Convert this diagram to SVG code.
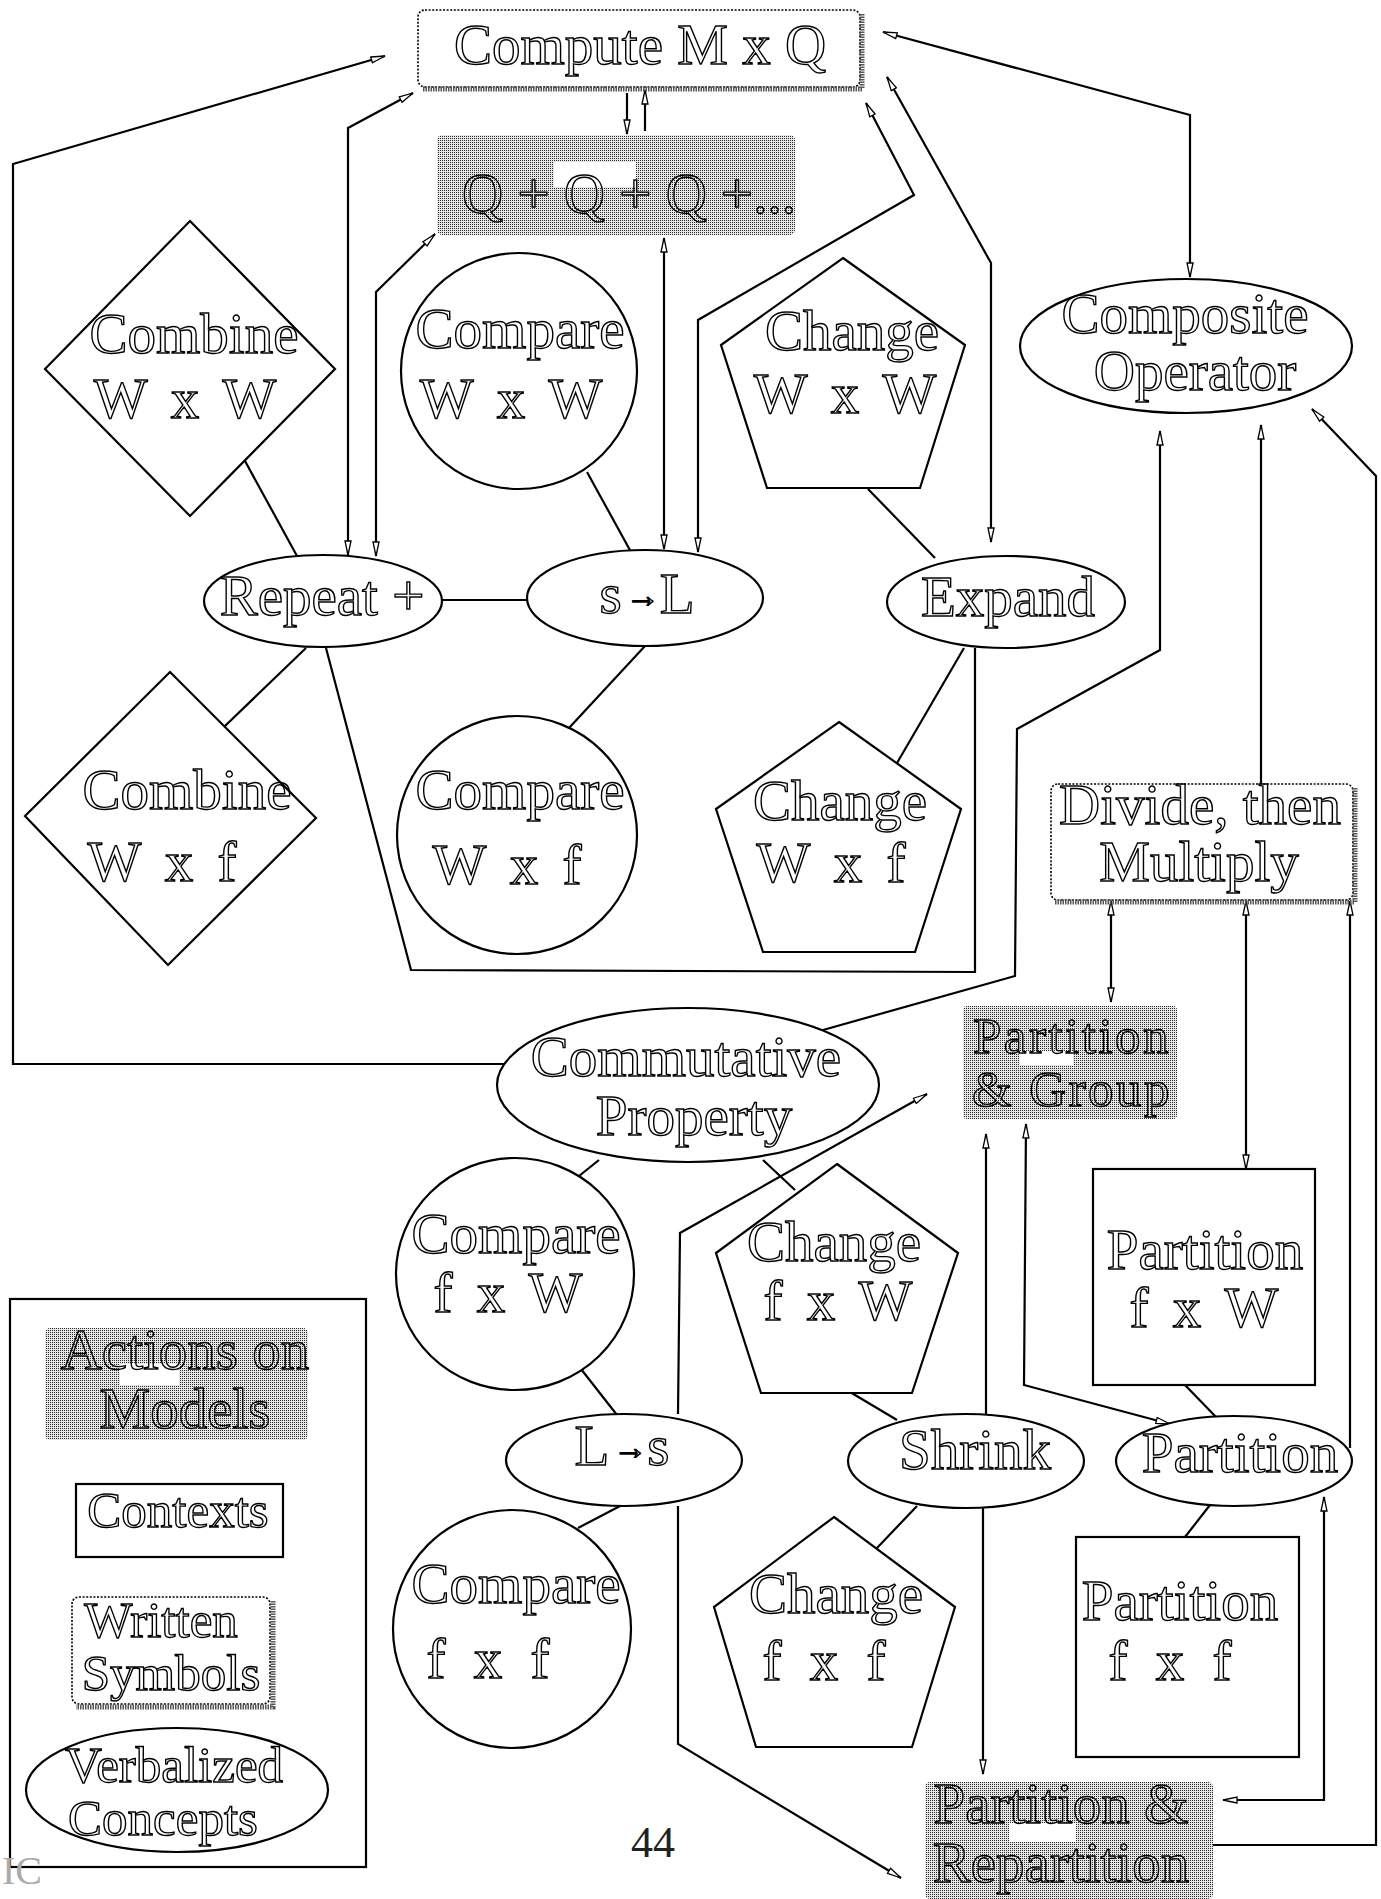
<svg xmlns="http://www.w3.org/2000/svg" width="1381" height="1899" viewBox="0 0 1381 1899">
<style>
.n{fill:#fff;stroke:#000;stroke-width:2.2}
.g{fill:url(#ht);stroke:none}
.t{font-family:"Liberation Serif",serif;font-size:57px;text-anchor:middle;fill:none;stroke:#000;stroke-width:1.4}
.l{font-size:51px}
.v{word-spacing:10px}
.w{fill:#fff;stroke:none}
#conn path{fill:none;stroke:#000;stroke-width:2.2}
.d{fill:#fff;stroke:#000;stroke-width:1.6;stroke-dasharray:2 1.6}
.sh{fill:none;stroke:#555;stroke-width:5;stroke-dasharray:1.5 1}
</style>
<defs>
<pattern id="ht" width="2" height="2" patternUnits="userSpaceOnUse"><rect width="2" height="2" fill="#e6e6e6"/><rect width="1" height="1" fill="#2a2a2a"/></pattern>
<marker id="a" viewBox="0 0 16 8" refX="15" refY="4" markerWidth="16" markerHeight="8" markerUnits="userSpaceOnUse" orient="auto-start-reverse"><path d="M1,1 L15,4 L1,7 z" fill="#fff" stroke="#000" stroke-width="1.3"/></marker>
</defs>
<rect width="1381" height="1899" fill="#fff"/>

<g id="conn">
<path d="M504,1064 L13,1064 L13,164 L385,56" marker-end="url(#a)"/>
<path d="M348,555 L348,128 L413,93" marker-start="url(#a)" marker-end="url(#a)"/>
<path d="M376,556 L376,292 L435,234" marker-start="url(#a)" marker-end="url(#a)"/>
<path d="M664,549 L664,238" marker-start="url(#a)" marker-end="url(#a)"/>
<path d="M698,552 L698,320 L914,195 L866,103" marker-start="url(#a)" marker-end="url(#a)"/>
<path d="M991,542 L991,263 L887,77" marker-start="url(#a)" marker-end="url(#a)"/>
<path d="M883,32 L1190,115 L1190,277" marker-start="url(#a)" marker-end="url(#a)"/>
<path d="M823,1030 L1015,976 L1017,729 L1160,650 L1160,431" marker-end="url(#a)"/>
<path d="M1261,784 L1261,425" marker-end="url(#a)"/>
<path d="M1213,1845 L1376,1845 L1376,476 L1312,409" marker-end="url(#a)"/>
<path d="M1111,901 L1111,1002" marker-start="url(#a)" marker-end="url(#a)"/>
<path d="M1246,901 L1246,1169" marker-start="url(#a)" marker-end="url(#a)"/>
<path d="M1350,1448 L1350,901" marker-end="url(#a)"/>
<path d="M986,1414 L986,1134" marker-end="url(#a)"/>
<path d="M983,1507 L983,1774" marker-end="url(#a)"/>
<path d="M1026,1124 L1024,1385 L1170,1424" marker-start="url(#a)" marker-end="url(#a)"/>
<path d="M678,1414 L680,1233 L927,1094" marker-end="url(#a)"/>
<path d="M678,1506 L678,1744 L901,1878" marker-end="url(#a)"/>
<path d="M1324,1497 L1324,1800 L1223,1800" marker-start="url(#a)" marker-end="url(#a)"/>
<path d="M627,93 L627,134" marker-end="url(#a)"/>
<path d="M645,131 L645,90" marker-end="url(#a)"/>
<path d="M245,461 L297,556"/>
<path d="M587,472 L631,552"/>
<path d="M868,489 L935,558"/>
<path d="M442,600 L527,600"/>
<path d="M306,648 L225,726"/>
<path d="M326,648 L411,970 L975,972 L975,648"/>
<path d="M645,646 L569,728"/>
<path d="M964,648 L897,763"/>
<path d="M599,1160 L579,1176"/>
<path d="M763,1160 L795,1190"/>
<path d="M581,1369 L617,1415"/>
<path d="M622,1505 L578,1528"/>
<path d="M850,1392 L897,1420"/>
<path d="M917,1506 L877,1548"/>
<path d="M1185,1385 L1216,1417"/>
<path d="M1210,1505 L1185,1537"/>
</g>

<g id="compute">
<rect x="418" y="10" width="442" height="77" rx="7" class="d"/>
<path d="M862,14 L862,89 L422,89" class="sh"/>
<text class="t" x="640" y="64">Compute M x Q</text>
</g>

<g id="qsum">
<rect x="437" y="135" width="358" height="100" rx="5" class="g"/>
<rect x="554" y="162" width="82" height="25" class="w"/>
<text class="t" x="629" y="213">Q + Q + Q +...</text>
</g>

<g id="combineWW">
<polygon points="190,221 335,369 190,516 45,369" class="n"/>
<text class="t" x="194" y="353">Combine</text>
<text class="t v" x="185" y="418">W x W</text>
</g>

<g id="compareWW">
<ellipse cx="519" cy="371" rx="118" ry="118" class="n"/>
<text class="t" x="520" y="348">Compare</text>
<text class="t v" x="511" y="418">W x W</text>
</g>

<g id="changeWW">
<polygon points="843,258 965,345 920,488 767,488 721,345" class="n"/>
<text class="t" x="852" y="350">Change</text>
<text class="t v" x="845" y="413">W x W</text>
</g>

<g id="composite">
<ellipse cx="1186" cy="346" rx="166" ry="67" class="n"/>
<text class="t" x="1185" y="333">Composite</text>
<text class="t" x="1195" y="390">Operator</text>
</g>

<g id="repeat">
<ellipse cx="323" cy="601" rx="119" ry="46" class="n"/>
<text class="t" x="322" y="615">Repeat +</text>
</g>

<g id="sToL">
<ellipse cx="645" cy="598" rx="118" ry="48" class="n"/>
<text class="t" x="647" y="613">s<tspan font-size="34" dx="4" dy="-6">→</tspan><tspan dy="6">L</tspan></text>
</g>

<g id="expand">
<ellipse cx="1006" cy="602" rx="119" ry="46" class="n"/>
<text class="t" x="1008" y="616">Expand</text>
</g>

<g id="combineWf">
<polygon points="170,672 316,818 168,965 25,816" class="n"/>
<text class="t" x="187" y="809">Combine</text>
<text class="t v" x="162" y="881">W x f</text>
</g>

<g id="compareWf">
<ellipse cx="517" cy="835" rx="120" ry="119" class="n"/>
<text class="t" x="520" y="809">Compare</text>
<text class="t v" x="507" y="884">W x f</text>
</g>

<g id="changeWf">
<polygon points="839,722 961,809 915,952 763,952 716,809" class="n"/>
<text class="t" x="840" y="820">Change</text>
<text class="t v" x="831" y="882">W x f</text>
</g>

<g id="divide">
<rect x="1051" y="784" width="302" height="116" rx="7" class="d"/>
<path d="M1355,788 L1355,902 L1055,902" class="sh"/>
<text class="t" x="1200" y="824">Divide, then</text>
<text class="t" x="1199" y="881">Multiply</text>
</g>

<g id="commutative">
<ellipse cx="688" cy="1085" rx="191" ry="77" class="n"/>
<text class="t" x="686" y="1076">Commutative</text>
<text class="t" x="694" y="1135">Property</text>
</g>

<g id="partGroup">
<rect x="963" y="1006" width="214" height="113" rx="4" class="g"/>
<rect x="1020" y="1051" width="53" height="14" class="w"/>
<text class="t" x="1072" y="1053" style="font-size:51px;letter-spacing:2.5px">Partition</text>
<text class="t" x="1072" y="1106" style="font-size:51px;letter-spacing:2.5px">&amp; Group</text>
</g>

<g id="compareFW">
<ellipse cx="515" cy="1274" rx="119" ry="116" class="n"/>
<text class="t" x="516" y="1253">Compare</text>
<text class="t v" x="508" y="1312">f x W</text>
</g>

<g id="changeFW">
<polygon points="837,1164 958,1253 912,1393 761,1393 716,1253" class="n"/>
<text class="t" x="834" y="1261">Change</text>
<text class="t v" x="838" y="1320">f x W</text>
</g>

<g id="partitionFW">
<rect x="1093" y="1169" width="222" height="216" class="n"/>
<text class="t" x="1205" y="1269">Partition</text>
<text class="t v" x="1204" y="1327">f x W</text>
</g>

<g id="lToS">
<ellipse cx="624" cy="1460" rx="118" ry="46" class="n"/>
<text class="t" x="622" y="1465">L<tspan font-size="34" dx="4" dy="-6">→</tspan><tspan dy="6">s</tspan></text>
</g>

<g id="shrink">
<ellipse cx="966" cy="1461" rx="118" ry="47" class="n"/>
<text class="t" x="975" y="1469">Shrink</text>
</g>

<g id="partition">
<ellipse cx="1234" cy="1461" rx="118" ry="45" class="n"/>
<text class="t" x="1240" y="1472">Partition</text>
</g>

<g id="compareFF">
<ellipse cx="512" cy="1629" rx="119" ry="119" class="n"/>
<text class="t" x="516" y="1603">Compare</text>
<text class="t" x="488" y="1678" style="word-spacing:14px">f x f</text>
</g>

<g id="changeFF">
<polygon points="834,1517 955,1607 912,1747 756,1747 714,1607" class="n"/>
<text class="t" x="836" y="1613">Change</text>
<text class="t" x="824" y="1680" style="word-spacing:14px">f x f</text>
</g>

<g id="partitionFF">
<rect x="1076" y="1537" width="223" height="220" class="n"/>
<text class="t" x="1180" y="1620">Partition</text>
<text class="t" x="1170" y="1680" style="word-spacing:14px">f x f</text>
</g>

<g id="partRepart">
<rect x="925" y="1782" width="288" height="117" rx="5" class="g"/>
<rect x="1009" y="1823" width="67" height="19" class="w"/>
<text class="t" x="1061" y="1823">Partition &amp;</text>
<text class="t" x="1061" y="1882">Repartition</text>
</g>

<g id="legend">
<rect x="10" y="1299" width="356" height="568" fill="none" stroke="#000" stroke-width="2.2"/>
<rect x="45" y="1328" width="263" height="112" rx="5" class="g"/>
<rect x="120" y="1364" width="59" height="21" class="w"/>
<text class="t" x="185" y="1369">Actions on</text>
<text class="t" x="185" y="1428">Models</text>
<rect x="76" y="1484" width="207" height="73" class="n"/>
<text class="t l" x="178" y="1527">Contexts</text>
<rect x="72" y="1597" width="198" height="107" rx="7" class="d"/>
<path d="M273,1601 L273,1707 L76,1707" class="sh"/>
<text class="t l" x="161" y="1637">Written</text>
<text class="t l" x="171" y="1690">Symbols</text>
<ellipse cx="177" cy="1790" rx="151" ry="62" class="n"/>
<text class="t l" x="174" y="1782">Verbalized</text>
<text class="t l" x="163" y="1835">Concepts</text>
</g>

<text x="653" y="1857" font-family="Liberation Serif, serif" font-size="44" text-anchor="middle" fill="#222">44</text>
<text x="2" y="1884" font-family="Liberation Serif, serif" font-size="40" fill="#aaa">IC</text>
</svg>
